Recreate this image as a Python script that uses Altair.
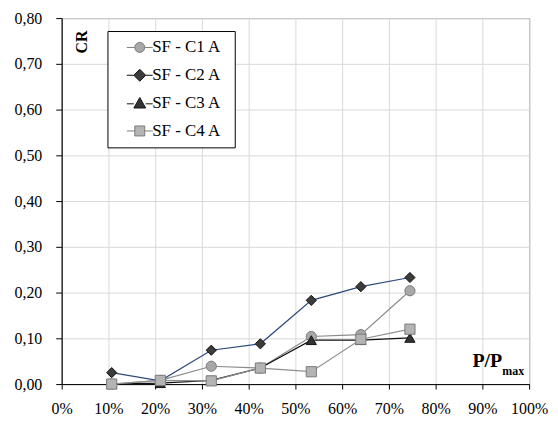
import altair as alt
import pandas as pd

# ---- data ----
load_ratio = [0.107, 0.211, 0.320, 0.425, 0.534, 0.640, 0.745]
series_names = ["SF - C1 A", "SF - C2 A", "SF - C3 A", "SF - C4 A"]
cr_c1 = [0.000, 0.008, 0.039, 0.035, 0.104, 0.108, 0.204]
cr_c2 = [0.025, 0.007, 0.074, 0.088, 0.183, 0.213, 0.233]
cr_c3 = [0.000, 0.002, 0.008, 0.035, 0.096, 0.096, 0.101]
cr_c4 = [0.000, 0.008, 0.007, 0.035, 0.027, 0.098, 0.120]
x_ticks = [0.0, 0.1, 0.2, 0.3, 0.4, 0.5, 0.6, 0.7, 0.8, 0.9, 1.0]
y_ticks = [0.0, 0.1, 0.2, 0.3, 0.4, 0.5, 0.6, 0.7, 0.8]

rows = []
for name, vals in zip(series_names, [cr_c1, cr_c2, cr_c3, cr_c4]):
    for x, y in zip(load_ratio, vals):
        rows.append({"series": name, "x": x, "cr": y})
df = pd.DataFrame(rows)

line_colors = ["#8a8a8a", "#2c4a7c", "#111111", "#8f8f8f"]
fill_colors = ["#a8a8a8", "#3c3c3c", "#333333", "#b4b4b4"]
edge_colors = ["#7a7a7a", "#111111", "#111111", "#7a7a7a"]
shapes = ["circle", "diamond", "triangle-up", "square"]

FONT = "Liberation Serif"
NBSP = "\u00a0"

# legend symbols: short line with marker in the middle
p_c1 = "M-1.857,0L-0.714,0M-0.714,0A0.714,0.714,0,1,1,0.714,0A0.714,0.714,0,1,1,-0.714,0ZM0.714,0L1.857,0"
p_c2 = "M-1.857,0L-0.857,0M0,-0.857L0.857,0L0,0.857L-0.857,0ZM0.857,0L1.857,0"
p_c3 = "M-1.857,0.1L-0.85,0.1M0,-0.8L0.85,0.7L-0.85,0.7ZM0.85,0.1L1.857,0.1"
p_c4 = "M-1.857,0L-0.714,0M-0.714,-0.714H0.714V0.714H-0.714ZM0.714,0L1.857,0"
legend_shapes = [p_c1, p_c2, p_c3, p_c4]

x_enc = alt.X(
    "x:Q",
    scale=alt.Scale(domain=[0, 1]),
    axis=alt.Axis(
        values=x_ticks, format=".0%", title=None, labelOverlap=False,
        labelFlush=False, labelFont=FONT, labelFontSize=16, labelPadding=12,
    ),
)
y_enc = alt.Y(
    "cr:Q",
    scale=alt.Scale(domain=[0, 0.8]),
    axis=alt.Axis(
        values=y_ticks,
        labelExpr="replace(format(datum.value, '.2f'), '.', ',')",
        title=None,
        minExtent=49,
        maxExtent=49,
        labelOverlap=False,
        labelFlush=False,
        labelFont=FONT,
        labelFontSize=16,
        labelPadding=14,
        tickSize=6,
    ),
)

base = alt.Chart(df)

lines = base.mark_line(strokeWidth=1.2).encode(
    x=x_enc,
    y=y_enc,
    color=alt.Color(
        "series:N",
        scale=alt.Scale(domain=series_names, range=line_colors),
        legend=None,
    ),
    detail="series:N",
)

points = base.mark_point(filled=True, size=105, opacity=1, strokeWidth=1).encode(
    x=x_enc,
    y=y_enc,
    shape=alt.Shape("series:N", scale=alt.Scale(domain=series_names, range=shapes), legend=None),
    fill=alt.Fill("series:N", scale=alt.Scale(domain=series_names, range=fill_colors), legend=None),
    stroke=alt.Stroke("series:N", scale=alt.Scale(domain=series_names, range=edge_colors), legend=None),
)

legend = alt.Legend(
    title=NBSP,
    titleOrient="right",
    titleFontSize=1,
    titlePadding=6,
    orient="none",
    legendX=46,
    legendY=13,
    fillColor="white",
    strokeColor="black",
    padding=8,
    symbolOffset=16,
    symbolSize=196,
    symbolStrokeWidth=1,
    symbolOpacity=1,
    rowPadding=10,
    labelFont=FONT,
    labelFontSize=17,
    labelColor="black",
    labelOffset=4,
)

legend_layer = base.transform_filter("datum.x < 0").mark_point(
    filled=True, size=95, opacity=1, strokeWidth=1
).encode(
    x=x_enc,
    y=y_enc,
    shape=alt.Shape("series:N", scale=alt.Scale(domain=series_names, range=legend_shapes), legend=legend),
    fill=alt.Fill("series:N", scale=alt.Scale(domain=series_names, range=fill_colors), legend=legend),
    stroke=alt.Stroke("series:N", scale=alt.Scale(domain=series_names, range=edge_colors), legend=legend),
)

one = pd.DataFrame({"a": [0]})
cr_title = alt.Chart(one).mark_text(
    text="CR", font=FONT, fontSize=16, fontWeight="bold", angle=270,
    align="center", baseline="middle", color="black",
).encode(x=alt.value(20), y=alt.value(24))

pp_title = alt.Chart(one).mark_text(
    text="P/P", font=FONT, fontSize=20, fontWeight="bold",
    align="right", baseline="alphabetic", color="black",
).encode(x=alt.value(443), y=alt.value(351))

max_title = alt.Chart(one).mark_text(
    text="max", font=FONT, fontSize=12, fontWeight="bold",
    align="left", baseline="alphabetic", color="black",
).encode(x=alt.value(443), y=alt.value(359))

chart = (
    alt.layer(lines, points, legend_layer, cr_title, pp_title, max_title)
    .resolve_scale(shape="independent", fill="independent", stroke="independent")
    .properties(width=470, height=368, padding={"left": 5, "top": 1, "right": 2, "bottom": 5})
    .configure(font=FONT)
    .configure_view(stroke="#222222", strokeWidth=1)
    .configure_axis(
        labelFont=FONT,
        labelColor="black",
        domainColor="black",
        tickColor="black",
        tickSize=5,
        gridColor="#d9d9d9",
        gridWidth=1,
    )
)

chart.save("out.html", embed_options={"renderer": "svg", "actions": False})
